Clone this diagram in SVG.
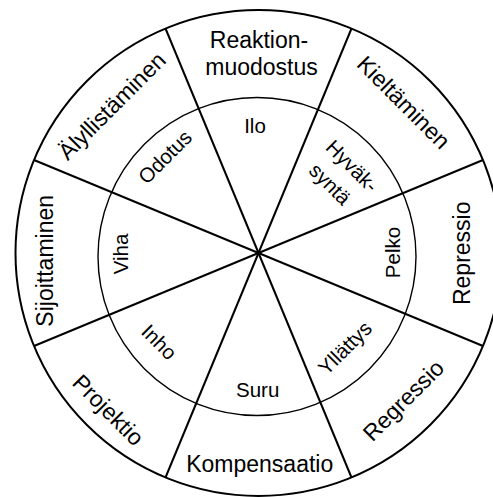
<svg xmlns="http://www.w3.org/2000/svg" width="493" height="497" viewBox="0 0 493 497">
<style>
.bg{fill:#fff}
.outer{fill:none;stroke:#000;stroke-width:2}
.inner{fill:none;stroke:#000;stroke-width:1.4}
.div{stroke:#000;stroke-width:2;fill:none}
text{font-family:"Liberation Sans",Arial,sans-serif;fill:#000;text-anchor:middle}
.o{font-size:23px}
.i{font-size:20.5px}
</style>
<rect class="bg" x="0" y="0" width="493" height="497"/>
<g id="rings">
<circle class="outer" cx="258.5" cy="253" r="243"/>
<circle class="inner" cx="257" cy="256.5" r="159"/>
</g>
<g id="connectors">
<line class="div" x1="165.5" y1="28.5" x2="351.5" y2="477.5"/>
<line class="div" x1="351.5" y1="28.5" x2="165.5" y2="477.5"/>
<line class="div" x1="34" y1="160" x2="483" y2="346"/>
<line class="div" x1="34" y1="346" x2="483" y2="160"/>
</g>
<g id="reaktionmuodostus"><text class="o" x="259" y="48.3">Reaktion-</text><text class="o" x="261.5" y="75">muodostus</text></g>
<g id="kieltaminen"><text class="o" transform="translate(398,108) rotate(45)">Kieltäminen</text></g>
<g id="repressio"><text class="o" transform="translate(470,253.3) rotate(-90)">Repressio</text></g>
<g id="regressio"><text class="o" transform="translate(409,406) rotate(-45)">Regressio</text></g>
<g id="kompensaatio"><text class="o" x="259.7" y="471.7">Kompensaatio</text></g>
<g id="projektio"><text class="o" transform="translate(102.6,415.6) rotate(45)">Projektio</text></g>
<g id="sijoittaminen"><text class="o" transform="translate(52.7,260.8) rotate(-90)">Sijoittaminen</text></g>
<g id="alyllistaminen"><text class="o" transform="translate(117.5,111.5) rotate(-45)">Älyllistäminen</text></g>
<g id="ilo"><text class="i" x="255" y="133.3">Ilo</text></g>
<g id="hyvaksynta"><text class="i" transform="translate(347,171) rotate(45)">Hyväk-</text><text class="i" transform="translate(325,189) rotate(45)">syntä</text></g>
<g id="pelko"><text class="i" transform="translate(400,252.5) rotate(-90)">Pelko</text></g>
<g id="yllattys"><text class="i" transform="translate(350,353) rotate(-45)">Yllättys</text></g>
<g id="suru"><text class="i" x="257.7" y="397.3">Suru</text></g>
<g id="inho"><text class="i" transform="translate(154.1,347.1) rotate(45)">Inho</text></g>
<g id="viha"><text class="i" transform="translate(128.3,254) rotate(-90)">Viha</text></g>
<g id="odotus"><text class="i" transform="translate(170,162) rotate(-45)">Odotus</text></g>
</svg>
